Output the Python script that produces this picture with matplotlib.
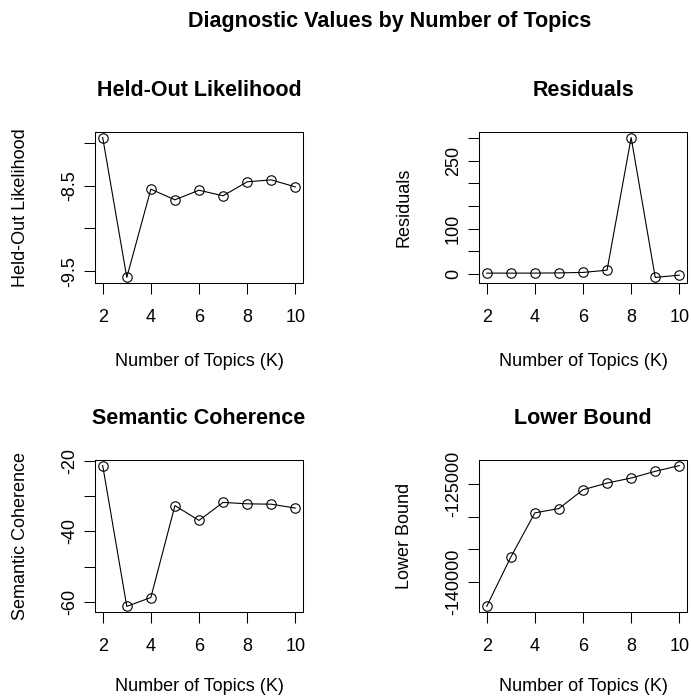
import matplotlib
matplotlib.use("Agg")
import matplotlib.pyplot as plt

plt.rcParams['font.family'] = ['Liberation Sans', 'DejaVu Sans']

# number of topics
K = [2, 3, 4, 5, 6, 7, 8, 9, 10]

# diagnostic values
heldout = [-7.94, -9.574, -8.543, -8.667, -8.555, -8.62, -8.457, -8.434, -8.516]
residuals = [1.5, 1.5, 1.5, 2.0, 3.0, 8.0, 301.5, -8.0, -3.0]
semcoh = [-21.4, -61.2, -58.7, -32.7, -36.9, -31.8, -32.2, -32.3, -33.4]
bound = [-143673, -136173, -129439, -128776, -125918, -124898, -124133, -123112, -122245]

x_ticks = [2, 4, 6, 8, 10]

heldout_ticks = [-9.5, -9.0, -8.5, -8.0]
heldout_labels = ['-9.5', '', '-8.5', '']
resid_ticks = [0, 50, 100, 150, 200, 250, 300]
resid_labels = ['0', '', '100', '', '', '250', '']
semcoh_ticks = [-60, -50, -40, -30, -20]
semcoh_labels = ['-60', '', '-40', '', '-20']
bound_ticks = [-140000, -135000, -130000, -125000]
bound_labels = ['-140000', '', '', '-125000']

W, H = 691, 698
fig = plt.figure(figsize=(W / 100, H / 100), dpi=100)

panels = [
    ("Held-Out Likelihood", heldout, heldout_ticks, heldout_labels, (95, 132, 303, 283)),
    ("Residuals", residuals, resid_ticks, resid_labels, (479, 132, 687, 283)),
    ("Semantic Coherence", semcoh, semcoh_ticks, semcoh_labels, (95, 460, 303, 612)),
    ("Lower Bound", bound, bound_ticks, bound_labels, (479, 460, 687, 612)),
]

for name, vals, yt, yl, (x0, y0, x1, y1) in panels:
    ax = fig.add_axes([x0 / W, 1 - y1 / H, (x1 - x0) / W, (y1 - y0) / H])
    ax.plot(K, vals, color='black', linewidth=0.8, marker='o', markersize=6.8,
            markerfacecolor='none', markeredgecolor='black', markeredgewidth=0.8)
    ax.margins(x=0.04, y=0.04)
    ax.set_xticks(x_ticks)
    ax.set_yticks(yt)
    ax.set_yticklabels(yl, rotation=90, va='center')
    ax.tick_params(direction='out', length=7.9, width=0.75, labelsize=13, color='black')
    ax.tick_params(axis='x', pad=11)
    ax.tick_params(axis='y', pad=4.5)
    for s in ax.spines.values():
        s.set_linewidth(0.75)
    ax.set_title(name, fontsize=15.5, fontweight='bold', pad=26)
    # bottom row sits right at the lower edge, keep its label inside
    ax.set_xlabel("Number of Topics (K)", fontsize=13, labelpad=19.5 if y0 < 300 else 16.5)
    ax.set_ylabel(name, fontsize=13, labelpad=23)

fig.text(390 / W, 1 - 22 / H, "Diagnostic Values by Number of Topics",
         fontsize=15.5, fontweight='bold', ha='center', va='center')

fig.savefig("out.png", dpi=100)
